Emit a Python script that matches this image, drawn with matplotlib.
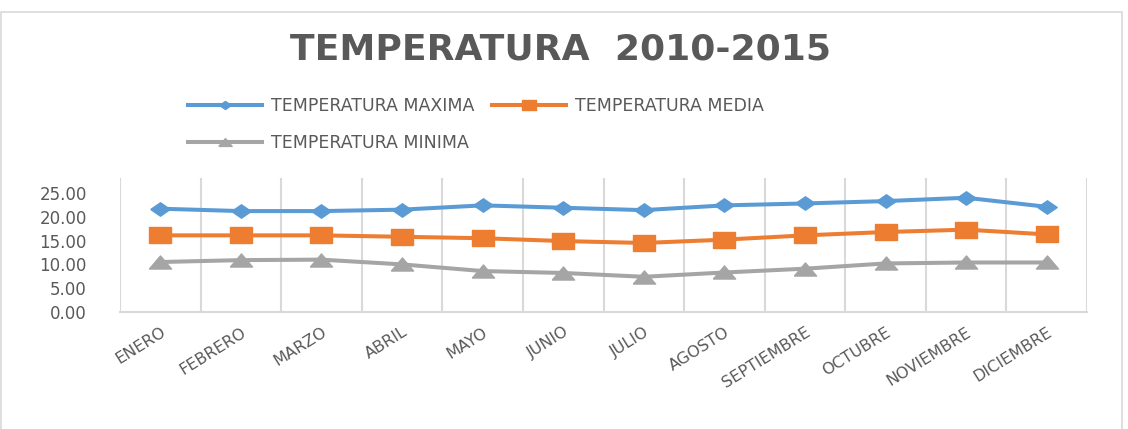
import matplotlib
matplotlib.use('Agg')
import matplotlib.pyplot as plt
from matplotlib.patches import Rectangle

# datos
meses = ['ENERO', 'FEBRERO', 'MARZO', 'ABRIL', 'MAYO', 'JUNIO', 'JULIO',
         'AGOSTO', 'SEPTIEMBRE', 'OCTUBRE', 'NOVIEMBRE', 'DICIEMBRE']
temp_maxima = [21.7, 21.2, 21.2, 21.5, 22.4, 21.9, 21.4, 22.4, 22.8, 23.3, 24.0, 22.1]
temp_media = [16.1, 16.1, 16.1, 15.8, 15.5, 14.9, 14.5, 15.2, 16.1, 16.8, 17.3, 16.3]
temp_minima = [10.5, 10.9, 11.0, 10.0, 8.6, 8.2, 7.4, 8.3, 9.1, 10.2, 10.4, 10.4]
y_ticks = [0, 5, 10, 15, 20, 25]

plt.rcParams['font.family'] = ['DejaVu Sans']

gris_texto = '#595959'
gris_linea = '#d9d9d9'

# marcadores mas anchos que altos, como en la imagen original
diamante = [(-1.45, 0), (0, 1), (1.45, 0), (0, -1), (-1.45, 0)]
cuadrado = [(-1.5, -1), (1.5, -1), (1.5, 1), (-1.5, 1), (-1.5, -1)]
triangulo = [(-1.7, -1), (1.7, -1), (0, 1), (-1.7, -1)]

fig = plt.figure(figsize=(11.28, 4.29), dpi=100)
ax = fig.add_axes([120 / 1128, 1 - 312 / 429, (1087 - 120) / 1128, (312 - 178) / 429])

x = range(len(meses))
l_max, = ax.plot(x, temp_maxima, color='#5B9BD5', lw=2.9, marker=diamante, ms=14,
                 label='TEMPERATURA MAXIMA', zorder=3)
l_med, = ax.plot(x, temp_media, color='#ED7D31', lw=2.9, marker=cuadrado, ms=16.5,
                 label='TEMPERATURA MEDIA', zorder=3)
l_min, = ax.plot(x, temp_minima, color='#A5A5A5', lw=2.9, marker=triangulo, ms=16,
                 label='TEMPERATURA MINIMA', zorder=3)

ax.set_xlim(-0.5, len(meses) - 0.5)
ax.set_ylim(0, 28.15)
ax.set_yticks(y_ticks)
ax.set_yticklabels(['%.2f' % v for v in y_ticks])
ax.set_xticks(list(x))
ax.set_xticklabels(meses, rotation=32, ha='right', va='top', rotation_mode='anchor')

# lineas verticales entre categorias
for b in range(len(meses) + 1):
    ax.axvline(b - 0.5, color=gris_linea, lw=1.5, zorder=1)

for s in ['top', 'right', 'left']:
    ax.spines[s].set_visible(False)
ax.spines['bottom'].set_color(gris_linea)
ax.spines['bottom'].set_linewidth(1.5)
ax.tick_params(axis='y', length=0, pad=24, labelsize=12, labelcolor=gris_texto)
ax.tick_params(axis='x', length=0, pad=9, labelsize=11.5, labelcolor=gris_texto)

fig.text(0.497, 1 - 50 / 429, 'TEMPERATURA  2010-2015', ha='center', va='center',
         fontsize=26, fontweight='bold', color=gris_texto)

fig.legend([l_max, l_min, l_med],
           ['TEMPERATURA MAXIMA', 'TEMPERATURA MINIMA', 'TEMPERATURA MEDIA'],
           ncol=2, loc='upper left', bbox_to_anchor=(172 / 1128, 1 - 81 / 429),
           frameon=False, fontsize=12.5, labelcolor=gris_texto, handlelength=4.3,
           markerscale=0.6, columnspacing=1.0, labelspacing=1.1, handletextpad=0.5)

# marco del grafico
fig.patches.append(Rectangle((1 / 1128, -0.05), 1121 / 1128, 1.05 - 12 / 429,
                             transform=fig.transFigure, fill=False,
                             edgecolor=gris_linea, lw=1.2))

fig.savefig('out.png', dpi=100, facecolor='white')
